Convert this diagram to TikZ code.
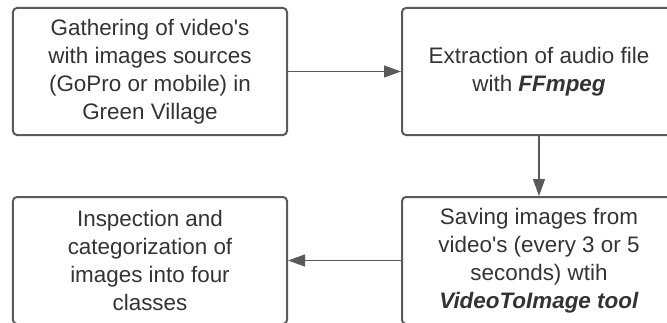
\documentclass[tikz,border=0pt]{standalone}
\usepackage{fontspec}
\setmainfont{Liberation Sans}
\usetikzlibrary{arrows.meta,positioning}
\definecolor{edge}{HTML}{5A5A5A}
\definecolor{ink}{HTML}{333333}
\tikzset{box/.style={draw=edge,line width=2bp,rounded corners=4bp,align=center,minimum width=274bp,minimum height=127bp,inner sep=4pt,text=ink,font=\fontsize{22.5}{28}\selectfont},arrow/.style={-{Triangle[length=17bp,width=12bp]},draw=edge,line width=1.3bp}}
\begin{document}
\begin{tikzpicture}[x=1bp,y=1bp]
\useasboundingbox (0,0) rectangle (667,322);
\clip (0,0) rectangle (667,322);
\node[box] (a) at (150,250.5) {Gathering of video\textquotesingle s\\with images sources\\(GoPro or mobile) in\\Green Village};
\node[box] (b) at (539,250.5) {Extraction of audio file\\with \textbf{\textit{FFmpeg}}};
\node[box] (c) at (150,61.5) {Inspection and\\categorization of\\images into four\\classes};
\node[box] (d) at (539,61.5) {Saving images from\\video\textquotesingle s (every 3 or 5\\seconds) wtih\\\textbf{\textit{VideoToImage tool}}};
\draw[arrow](a)--(b);\draw[arrow](b)--(d);\draw[arrow](d)--(c);
\end{tikzpicture}
\end{document}
